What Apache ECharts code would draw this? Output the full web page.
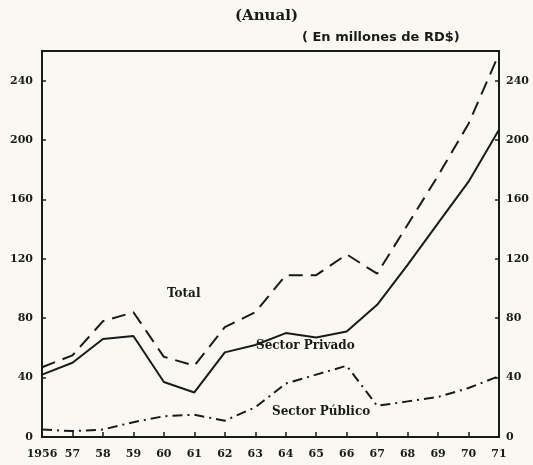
<!DOCTYPE html>
<html><head><meta charset="utf-8">
<script src="https://cdn.jsdelivr.net/npm/echarts@6/dist/echarts.min.js"></script>
<style>html,body{margin:0;padding:0;background:#f9f8f3}#c{width:533px;height:465px}</style>
</head><body><div id="c"></div>
<script>
const years = ['1956','57','58','59','60','61','62','63','64','65','66','67','68','69','70','71'];
const total = [47, 55, 78, 84, 54, 48, 74, 84, 109, 109, 123, 110, 143, 176, 211, 258];
const privado = [42, 50, 66, 68, 37, 30, 57, 62, 70, 67, 71, 89, 116, 144, 172, 207];
const publico = [5, 4, 5, 10, 14, 15, 11, 20, 36, 42, 48, 21, 24, 27, 33, 41];
const yTicks = [0, 40, 80, 120, 160, 200, 240];

const font = 'DejaVu Serif';
const ink = '#1a1a1a';
const chart = echarts.init(document.getElementById('c'));
const yAxisBase = (pos) => ({
  type: 'value', position: pos, min: 0, max: 260, interval: 40,
  axisLine: {show: true, lineStyle: {color: ink, width: 2}},
  axisTick: {show: true, inside: true, length: 4, lineStyle: {color: ink, width: 1.5}},
  splitLine: {show: false},
  axisLabel: {
    color: ink, fontFamily: font, fontWeight: 'bold', fontSize: 11, margin: pos === 'left' ? 9 : 7,
    formatter: v => yTicks.includes(v) ? String(v) : ''
  }
});
chart.setOption({
  backgroundColor: '#f9f8f3',
  animation: false,
  grid: {left: 42, right: 34, top: 51, bottom: 28, show: true, borderColor: ink, borderWidth: 2, backgroundColor: 'transparent'},
  xAxis: {
    type: 'category', data: years, boundaryGap: false,
    axisLine: {show: true, lineStyle: {color: ink, width: 2}},
    axisTick: {show: true, inside: true, length: 5, lineStyle: {color: ink, width: 1.5}},
    axisLabel: {color: ink, fontFamily: font, fontWeight: 'bold', fontSize: 11, margin: 12, interval: 0}
  },
  yAxis: [yAxisBase('left'), yAxisBase('right')],
  series: [
    {name: 'Total', type: 'line', data: total, symbol: 'none',
     lineStyle: {color: ink, width: 2, type: [14, 8]}},
    {name: 'Sector Privado', type: 'line', data: privado, symbol: 'none',
     lineStyle: {color: ink, width: 2, type: 'solid'}},
    {name: 'Sector Público', type: 'line', data: publico, symbol: 'none',
     lineStyle: {color: ink, width: 2, type: [10, 5, 2, 5]}}
  ],
  graphic: [
    {type: 'text', left: 'center', top: 9, style: {text: '(Anual)', font: 'bold 15px "DejaVu Serif"', fill: ink}},
    {type: 'text', left: 302, top: 31, style: {text: '( En millones de RD$)', font: 'bold 13px "DejaVu Sans"', fill: ink}},
    {type: 'text', left: 167, top: 288, style: {text: 'Total', font: 'bold 12px "DejaVu Serif"', fill: ink}},
    {type: 'text', left: 256, top: 340, style: {text: 'Sector Privado', font: 'bold 12px "DejaVu Serif"', fill: ink}},
    {type: 'text', left: 272, top: 406, style: {text: 'Sector Público', font: 'bold 12px "DejaVu Serif"', fill: ink}}
  ]
});
</script></body></html>
